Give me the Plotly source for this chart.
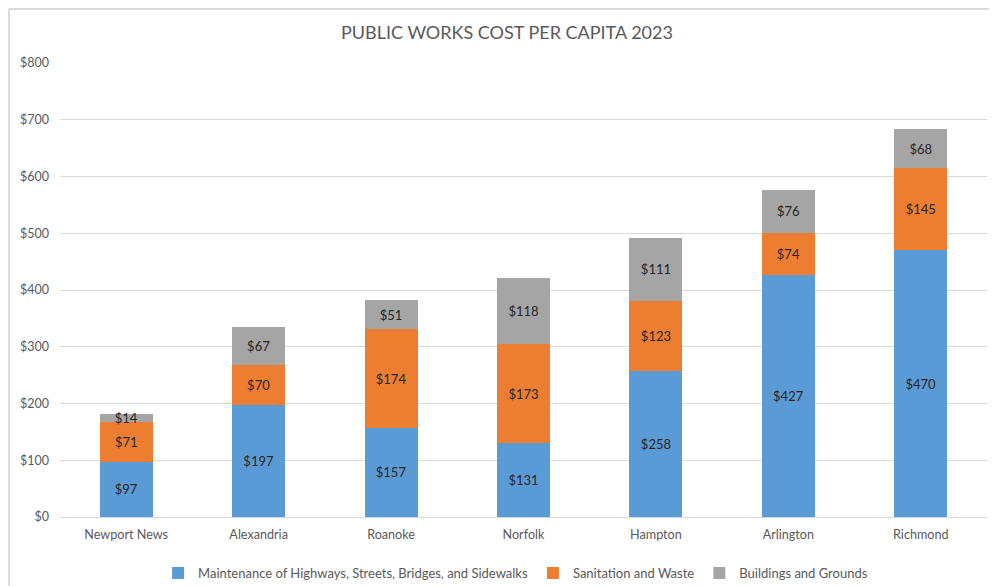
import plotly.graph_objects as go

cities = ["Newport News", "Alexandria", "Roanoke", "Norfolk", "Hampton", "Arlington", "Richmond"]
maintenance = [97, 197, 157, 131, 258, 427, 470]
sanitation = [71, 70, 174, 173, 123, 74, 145]
buildings = [14, 67, 51, 118, 111, 76, 68]
series_names = ["Maintenance of Highways, Streets, Bridges, and Sidewalks",
                "Sanitation and Waste", "Buildings and Grounds"]
tick_vals = [0, 100, 200, 300, 400, 500, 600, 700, 800]
tick_text = ["$" + str(v) for v in tick_vals]

colors = ["#5B9BD5", "#ED7D31", "#A5A5A5"]
FONT = "Lato, Calibri, Arial, sans-serif"

fig = go.Figure()
for name, vals, col in zip(series_names, [maintenance, sanitation, buildings], colors):
    fig.add_trace(go.Bar(
        x=cities, y=vals, name=name,
        marker=dict(color=col, line=dict(width=0)),
        text=["$" + str(v) for v in vals],
        textposition="inside", insidetextanchor="middle",
        textangle=0, constraintext="none",
        textfont=dict(family=FONT, size=13, color="#262626"),
        hoverinfo="x+y+name",
    ))

# page is offset by 8px body margin; margins compensate
W, H = 997, 586
L, R, T, B = 52, 18, 55, 77
pw = W - L - R
ph = H - T - B
bx = (1 - L) / pw
ty = (H - B - 1) / ph

fig.update_layout(
    barmode="stack",
    bargap=0.6,
    width=W, height=H,
    margin=dict(l=L, r=R, t=T, b=B, autoexpand=False),
    paper_bgcolor="white", plot_bgcolor="white",
    font=dict(family=FONT, color="#595959"),
    title=dict(text="PUBLIC WORKS COST PER CAPITA 2023", x=(507 - 8) / W, xanchor="center",
               y=1 - 25 / H, yanchor="middle",
               font=dict(family=FONT, size=18, color="#595959")),
    xaxis=dict(showgrid=False, showline=True, linecolor="#D9D9D9", linewidth=1,
               ticks="", ticklabelstandoff=6,
               tickfont=dict(family=FONT, size=12.6, color="#595959")),
    yaxis=dict(range=[0, 800], tickvals=tick_vals, ticktext=tick_text,
               showgrid=True, gridcolor="#D9D9D9", gridwidth=1,
               zeroline=False, showline=False, ticks="",
               ticklabelstandoff=10,
               tickfont=dict(family=FONT, size=12.5, color="#595959")),
    legend=dict(orientation="h", x=490 / W, xanchor="center",
                yref="container", y=1 - 565 / H,
                yanchor="middle", font=dict(family=FONT, size=13, color="#595959"),
                itemwidth=30, traceorder="normal"),
    shapes=[
        dict(type="line", xref="paper", yref="paper", x0=bx, x1=bx, y0=-0.3, y1=ty,
             line=dict(color="#D9D9D9", width=2)),
        dict(type="line", xref="paper", yref="paper", x0=bx, x1=(988 - L) / pw, y0=ty, y1=ty,
             line=dict(color="#D9D9D9", width=2)),
    ],
)

fig.write_html("out.html")
